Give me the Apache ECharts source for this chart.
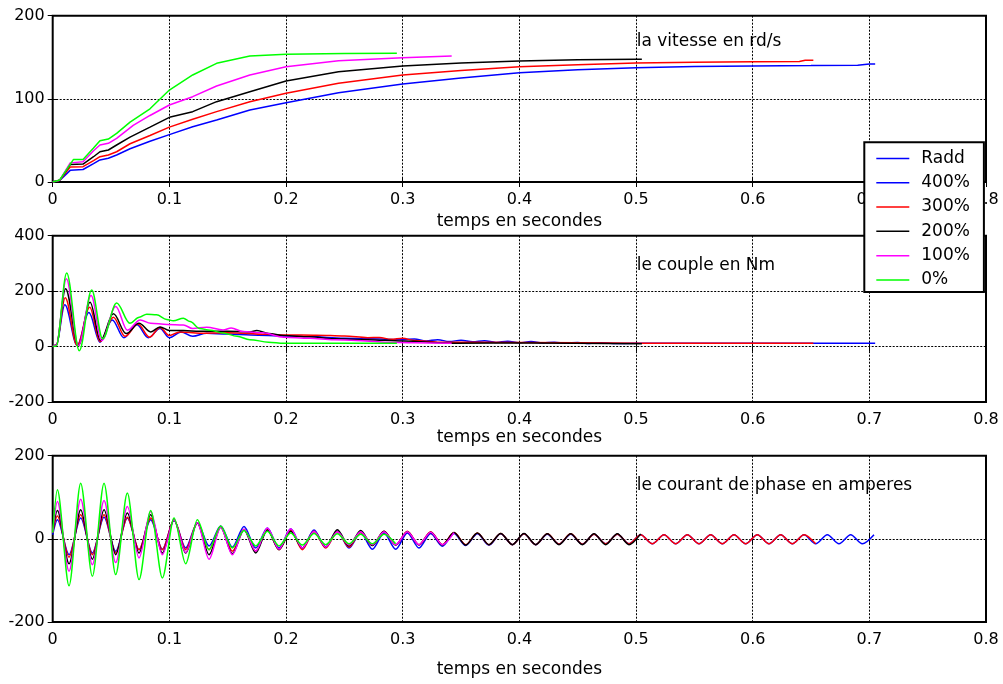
<!DOCTYPE html>
<html>
<head>
<meta charset="utf-8">
<script src="https://cdn.jsdelivr.net/npm/echarts@6/dist/echarts.min.js"></script>
<style>
html,body{margin:0;padding:0;background:#fff;}
#chart{width:1003px;height:684px;}
</style>
</head>
<body>
<div id="chart"></div>
<script>
// ---------- data ----------
const seriesNames = ['Radd', '400%', '300%', '200%', '100%', '0%'];
const seriesColors = ['#0000ff', '#0000ff', '#ff0000', '#000000', '#ff00ff', '#00ff00'];
const xTickLabels = ['0', '0.1', '0.2', '0.3', '0.4', '0.5', '0.6', '0.7', '0.8'];
const panelTexts = ['la vitesse en rd/s', 'le couple en Nm', 'le courant de phase en amperes'];
const xName = 'temps en secondes';

// speed (rd/s): [t, value]
const speed400 = [[0,0],[0.006,2],[0.015,14],[0.026,15],[0.035,22],[0.0405,26.5],[0.0477,28.5],[0.0548,32.5],[0.0663,40],[0.0834,49],[0.1,57],[0.12,66.5],[0.1405,74.6],[0.169,86.6],[0.2,95.4],[0.245,107.4],[0.3,117.9],[0.35,125],[0.4,131.5],[0.45,135],[0.5,137.5],[0.55,139],[0.6,139.5],[0.65,140],[0.69,140.5],[0.7,142],[0.705,142]];
const speed300 = [[0,0],[0.006,2],[0.015,18],[0.026,18.4],[0.035,25.6],[0.0405,30.4],[0.0477,32.5],[0.0548,36.4],[0.0663,46],[0.0834,56],[0.1,66],[0.12,75.4],[0.1405,84.6],[0.169,96.6],[0.2,106.7],[0.245,118.7],[0.3,128.7],[0.35,134],[0.4,138.7],[0.45,141],[0.5,143],[0.55,144],[0.6,144.7],[0.64,145],[0.645,146.3],[0.652,146.3]];
const speed200 = [[0,0],[0.006,2],[0.015,21],[0.026,21.6],[0.035,30.4],[0.0405,36.4],[0.0477,38.5],[0.0548,44.5],[0.0663,54],[0.0834,66],[0.1,77.8],[0.12,84.6],[0.1405,96.6],[0.169,108.6],[0.2,121.5],[0.245,132.7],[0.3,139.5],[0.35,143],[0.4,145.5],[0.45,147],[0.5,147.5],[0.505,147.5]];
const speed100 = [[0,0],[0.006,2],[0.015,23],[0.026,24.4],[0.035,37.6],[0.0405,44.5],[0.0477,46.5],[0.0548,52.5],[0.069,68],[0.0834,80],[0.1,92.6],[0.12,102.6],[0.1405,115.5],[0.169,128.7],[0.2,138.7],[0.245,145.9],[0.3,149.5],[0.342,151.5]];
const speed0 = [[0,0],[0.006,2.4],[0.0177,27],[0.026,27],[0.0348,40.5],[0.0405,49.7],[0.0477,51.7],[0.0548,58.5],[0.0663,72],[0.0834,88],[0.1,110.6],[0.12,128.7],[0.1405,142.7],[0.169,151.5],[0.2,153.5],[0.25,154.5],[0.295,154.8]];

// torque (Nm): [t, value]
const torque400 = [[0,0],[0.003,5],[0.0104,151],[0.021,4],[0.031,123],[0.0406,16],[0.051,96],[0.061,32],[0.072,80],[0.082,32],[0.092,65],[0.1,32],[0.11,53],[0.12,37],[0.132,48],[0.15,45],[0.17,42],[0.2,38],[0.22,36],[0.25,30],[0.27,28],[0.3,25],[0.31,27],[0.32,20],[0.33,25],[0.34,18],[0.35,23],[0.36,17],[0.37,21],[0.38,15],[0.39,19],[0.4,14],[0.41,18],[0.42,13],[0.43,16],[0.44,12],[0.45,15],[0.46,11],[0.47,14],[0.48,11],[0.5,12],[0.6,12],[0.705,12]];
const torque300 = [[0,0],[0.003,5],[0.0107,176],[0.021,4],[0.0317,142],[0.0406,18],[0.052,106],[0.062,37],[0.073,81],[0.083,34],[0.092,69],[0.1,40],[0.109,53],[0.126,48],[0.15,50],[0.183,44],[0.2,42],[0.226,41],[0.25,38],[0.27,32],[0.28,33],[0.29,26],[0.3,30],[0.31,22],[0.33,16],[0.4,15],[0.5,12],[0.6,12],[0.652,12]];
const torque200 = [[0,0],[0.003,5],[0.011,209],[0.022,4],[0.032,160],[0.041,22],[0.052,118],[0.063,47],[0.074,84],[0.084,53],[0.092,71],[0.1,58],[0.112,58],[0.126,55],[0.15,55],[0.169,53],[0.175,58],[0.185,47],[0.198,40],[0.22,35],[0.241,28],[0.27,25],[0.3,20],[0.346,12],[0.41,13],[0.505,10]];
const torque100 = [[0,0],[0.003,5],[0.0117,245],[0.022,4],[0.0329,184],[0.042,22],[0.054,145],[0.064,59],[0.075,96],[0.084,84],[0.098,80],[0.112,78],[0.12,65],[0.132,70],[0.146,60],[0.153,67],[0.163,54],[0.18,50],[0.198,34],[0.22,30],[0.241,25],[0.26,22],[0.284,16],[0.31,14],[0.342,12]];
const torque0 = [[0,0],[0.003,2],[0.012,265],[0.0228,-15],[0.0334,204],[0.0428,28],[0.0548,157],[0.0662,84],[0.0742,106],[0.0806,117],[0.089,115],[0.0977,98],[0.1034,93],[0.112,102],[0.1177,90],[0.126,65],[0.135,59],[0.146,49],[0.158,37],[0.169,25],[0.185,16],[0.198,12],[0.25,12],[0.295,12]];

// phase current (A): shared sample times (start, then alternating peaks/troughs)
const tCur = [0,0.004,0.014,0.024,0.034,0.044,0.054,0.064,0.074,0.084,0.094,0.104,0.114,0.124,0.134,0.144,0.154,0.164,0.174,0.184,0.194,0.204,0.214,0.224,0.234,0.244,0.254,0.264,0.274,0.284,0.294,0.304,0.314,0.324,0.334,0.344,0.354,0.364,0.374,0.384,0.394,0.404,0.414,0.424,0.434,0.444,0.454,0.464,0.474,0.484,0.494,0.504,0.514,0.524,0.534,0.544,0.554,0.564,0.574,0.584,0.594,0.604,0.614,0.624,0.634,0.644,0.654,0.664,0.674,0.684,0.694,0.704];
const cur400 = [10,46,-38,50,-34,52,-30,50,-26,46,-25,44,-22,39,-17,31,-20,30,-22,26,-22,24,-22,21,-20,18,-22,15,-25,14,-25,14,-22,13,-18,13,-16,12,-15,12,-14,12,-14,11,-13,11,-13,11,-12,11,-12,10,-12,10,-12,10,-12,10,-12,10,-12,10,-12,10,-12,10,-12,10,-12,10,-12,10];
const cur300 = [15,55,-44,58,-38,58,-34,52,-26,50,-26,46,-26,39,-26,30,-30,23,-30,23,-26,21,-26,18,-22,17,-20,16,-16,18,-15,18,-14,17,-14,15,-14,14,-14,13,-14,12,-14,12,-13,12,-13,11,-12,11,-12,10,-12,10,-12,10,-12,10,-12,10,-12,10,-12,10,-12,10,-12];
const cur200 = [15,68,-60,70,-49,70,-38,62,-34,58,-34,46,-34,38,-38,28,-36,22,-34,21,-26,18,-22,18,-20,22,-17,20,-16,18,-15,17,-15,16,-15,15,-15,14,-14,13,-14,13,-14,12,-14,12,-14,12,-14,12,-14,12];
const cur100 = [15,90,-78,95,-62,92,-57,78,-46,66,-38,46,-33,39,-49,28,-38,23,-30,26,-25,24,-22,18,-20,17,-15,17,-14,17,-14,17,-14,16,-14,15];
const cur0 = [15,118,-113,134,-90,134,-86,110,-98,68,-94,50,-60,46,-26,31,-22,20,-17,18,-17,14,-15,13,-14,12,-12,11,-12,11,-12];

const speedSets = [[], speed400, speed300, speed200, speed100, speed0];
const torqueSets = [[], torque400, torque300, torque200, torque100, torque0];
const currentSets = [[], cur400, cur300, cur200, cur100, cur0];

// ---------- layout ----------
const FONT = 'DejaVu Sans';
const plotLeft = 52.7, plotWidth = 933.3, plotHeight = 166.3;
const panels = [
  {top: 15.7, min: 0, max: 200, interval: 100, nameGap: 31},
  {top: 235.7, min: -200, max: 400, interval: 200, nameGap: 25},
  {top: 455.7, min: -200, max: 200, interval: 200, nameGap: 39}
];
const textY = [43, 266.7, 486.7];

const grids = [], xAxes = [], yAxes = [], series = [];
const gridLine = {color: '#000', width: 1, type: [2, 1.5]};
panels.forEach((p, gi) => {
  grids.push({left: plotLeft, top: p.top, width: plotWidth, height: plotHeight,
    show: true, borderColor: '#000', borderWidth: 2, backgroundColor: '#fff'});
  const tick = {show: true, inside: true, length: 5, lineStyle: {color: '#000', width: 1}};
  xAxes.push({type: 'value', gridIndex: gi, min: 0, max: 0.8, interval: 0.1, position: 'bottom',
    axisLine: {show: false}, axisTick: tick,
    axisLabel: {show: true, margin: 10, color: '#000', fontFamily: FONT, fontSize: 16,
      formatter: v => xTickLabels[Math.round(v * 10)]},
    splitLine: {show: true, lineStyle: gridLine},
    name: xName, nameLocation: 'middle', nameGap: p.nameGap,
    nameTextStyle: {color: '#000', fontFamily: FONT, fontSize: 17}});
  xAxes.push({type: 'value', gridIndex: gi, min: 0, max: 0.8, interval: 0.1, position: 'top',
    axisLine: {show: false}, axisTick: tick, axisLabel: {show: false}, splitLine: {show: false}});
  yAxes.push({type: 'value', gridIndex: gi, min: p.min, max: p.max, interval: p.interval, position: 'left',
    axisLine: {show: false}, axisTick: tick,
    axisLabel: {show: true, margin: 8, color: '#000', fontFamily: FONT, fontSize: 16},
    splitLine: {show: true, lineStyle: gridLine}});
  yAxes.push({type: 'value', gridIndex: gi, min: p.min, max: p.max, interval: p.interval, position: 'right',
    axisLine: {show: false}, axisTick: tick, axisLabel: {show: false}, splitLine: {show: false}});
});

function addSeries(gi, dataFor, smooth) {
  seriesNames.forEach((name, si) => {
    series.push({
      type: 'line', name: name, xAxisIndex: gi * 2, yAxisIndex: gi * 2,
      data: dataFor(si), showSymbol: false, symbol: 'none', smooth: smooth,
      smoothMonotone: 'x', animation: false,
      lineStyle: {color: seriesColors[si], width: 1.5}, itemStyle: {color: seriesColors[si]},
      z: 2 + si
    });
  });
}
addSeries(0, si => speedSets[si], false);
addSeries(1, si => torqueSets[si], 0.35);
addSeries(2, si => currentSets[si].map((v, i) => [tCur[i], v]), 0.3);

const graphics = panelTexts.map((t, i) => ({
  type: 'text', left: 636.7, top: textY[i] - 10, z: 10,
  style: {text: t, font: '17px "' + FONT + '"', fill: '#000'}
}));

const option = {
  backgroundColor: '#fff',
  animation: false,
  grid: grids, xAxis: xAxes, yAxis: yAxes, series: series,
  graphic: graphics,
  legend: {
    data: seriesNames, orient: 'vertical', left: 864.3, top: 142.3,
    padding: [6, 14, 2, 12], itemGap: 4, itemWidth: 33, itemHeight: 1.5, icon: 'rect',
    backgroundColor: '#fff', borderColor: '#000', borderWidth: 2, borderRadius: 0,
    selectedMode: false, z: 20,
    textStyle: {color: '#000', fontFamily: FONT, fontSize: 17, lineHeight: 20.3, padding: [0, 0, 0, 7]}
  }
};
const chart = echarts.init(document.getElementById('chart'), null, {renderer: 'canvas'});
chart.setOption(option);
</script>
</body>
</html>
